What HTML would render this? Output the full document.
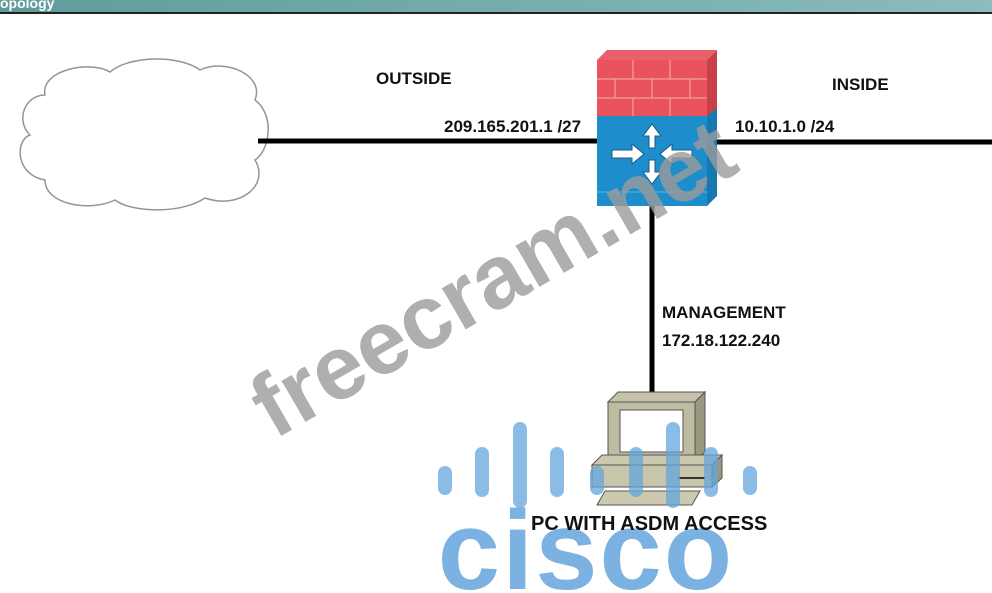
<!DOCTYPE html>
<html><head><style>
body{margin:0;width:992px;height:593px;overflow:hidden;background:#fff;position:relative;font-family:"Liberation Sans",Arial,sans-serif}
.t{position:absolute;font-weight:bold;font-size:17px;color:#111;white-space:nowrap}
</style></head><body>
<div style="position:absolute;left:0;top:0;width:992px;height:12px;background:linear-gradient(90deg,#5f9c9c,#8cbcbc);"></div>
<div style="position:absolute;left:0;top:12px;width:992px;height:2px;background:#222"></div>
<div style="position:absolute;left:0;top:-5px;color:#fff;font-weight:bold;font-size:14px">opology</div>
<svg width="992" height="593" style="position:absolute;left:0;top:0">
<path d="M45,95 C40,70 90,60 110,72 C130,55 180,55 200,70 C225,58 265,75 255,100 C275,115 270,150 255,160 C270,185 240,210 205,198 C180,215 130,212 115,200 C90,212 45,205 45,180 C15,175 15,140 30,135 C15,120 25,95 45,95Z" fill="#fff" stroke="#8a9a94" stroke-width="1.5"/>
<line x1="258" y1="141" x2="600" y2="141" stroke="#000" stroke-width="5"/>
<line x1="714" y1="142" x2="992" y2="142" stroke="#000" stroke-width="5"/>
<line x1="652" y1="200" x2="652" y2="392" stroke="#000" stroke-width="5"/>
<polygon points="597,60 607,50 717,50 707,60" fill="#e8606a"/>
<polygon points="707,60 717,50 717,110 707,118" fill="#c8404a"/>
<rect x="597" y="60" width="110" height="58" fill="#ea535c"/>
<g stroke="#f4b0b0" stroke-width="1">
<line x1="597" y1="79" x2="707" y2="79"/><line x1="597" y1="98" x2="707" y2="98"/>
<line x1="633" y1="60" x2="633" y2="79"/><line x1="670" y1="60" x2="670" y2="79"/>
<line x1="615" y1="79" x2="615" y2="98"/><line x1="652" y1="79" x2="652" y2="98"/><line x1="690" y1="79" x2="690" y2="98"/>
<line x1="633" y1="98" x2="633" y2="118"/><line x1="670" y1="98" x2="670" y2="118"/>
</g>
<rect x="597" y="116" width="110" height="90" fill="#1e8dcc"/>
<polygon points="707,116 717,108 717,196 707,206" fill="#1878b0"/>
<line x1="597" y1="192" x2="707" y2="192" stroke="#5bb5e5"/>
<g fill="#fff" stroke="#1a5a88" stroke-width="1">
<polygon points="652,124 643,136 649,136 649,148 655,148 655,136 661,136"/>
<polygon points="652,184 643,172 649,172 649,160 655,160 655,172 661,172"/>
<polygon points="612,150 632,150 632,144 644,154 632,164 632,158 612,158"/>
<polygon points="692,150 672,150 672,144 660,154 672,164 672,158 692,158"/>
</g>
<polygon points="608,402 618,392 705,392 695,402" fill="#c4c2a8" stroke="#555"/>
<polygon points="695,402 705,392 705,452 695,462" fill="#9a987e" stroke="#555"/>
<rect x="608" y="402" width="87" height="60" fill="#bdbba0" stroke="#555"/>
<rect x="620" y="410" width="63" height="42" fill="#fff" stroke="#555"/>
<polygon points="592,465 602,455 722,455 712,465" fill="#ccc9ae" stroke="#555"/>
<rect x="592" y="465" width="120" height="22" fill="#c8c6aa" stroke="#555"/>
<polygon points="712,465 722,455 722,478 712,487" fill="#9a987e" stroke="#555"/>
<line x1="678" y1="478" x2="705" y2="478" stroke="#333" stroke-width="2"/>
<polygon points="597,505 605,491 700,491 692,505" fill="#ccc9ae" stroke="#555"/>
<g stroke="rgba(100,165,220,0.75)" stroke-width="14" stroke-linecap="round">
<line x1="445" y1="473" x2="445" y2="488"/><line x1="482" y1="454" x2="482" y2="490"/>
<line x1="520" y1="429" x2="520" y2="501"/><line x1="557" y1="454" x2="557" y2="490"/>
<line x1="597" y1="473" x2="597" y2="488"/><line x1="636" y1="454" x2="636" y2="490"/>
<line x1="673" y1="429" x2="673" y2="501"/><line x1="711" y1="454" x2="711" y2="490"/>
<line x1="750" y1="473" x2="750" y2="488"/>
</g>
<text x="586" y="589" text-anchor="middle" font-family="Liberation Sans" font-weight="bold" font-size="112" fill="rgba(100,165,220,0.85)" letter-spacing="2">cisco</text>
<text x="508" y="305" text-anchor="middle" transform="rotate(-30 508 305)" font-family="Liberation Sans" font-weight="bold" font-size="90" fill="rgba(155,155,155,0.8)">freecram.net</text>
</svg>
<div class="t" style="left:376px;top:69px">OUTSIDE</div>
<div class="t" style="left:832px;top:75px">INSIDE</div>
<div class="t" style="left:444px;top:117px">209.165.201.1 /27</div>
<div class="t" style="left:735px;top:117px">10.10.1.0 /24</div>
<div class="t" style="left:662px;top:303px">MANAGEMENT</div>
<div class="t" style="left:662px;top:331px">172.18.122.240</div>
<div class="t" style="left:531px;top:513px;font-size:20px">PC WITH ASDM ACCESS</div>
</body></html>
